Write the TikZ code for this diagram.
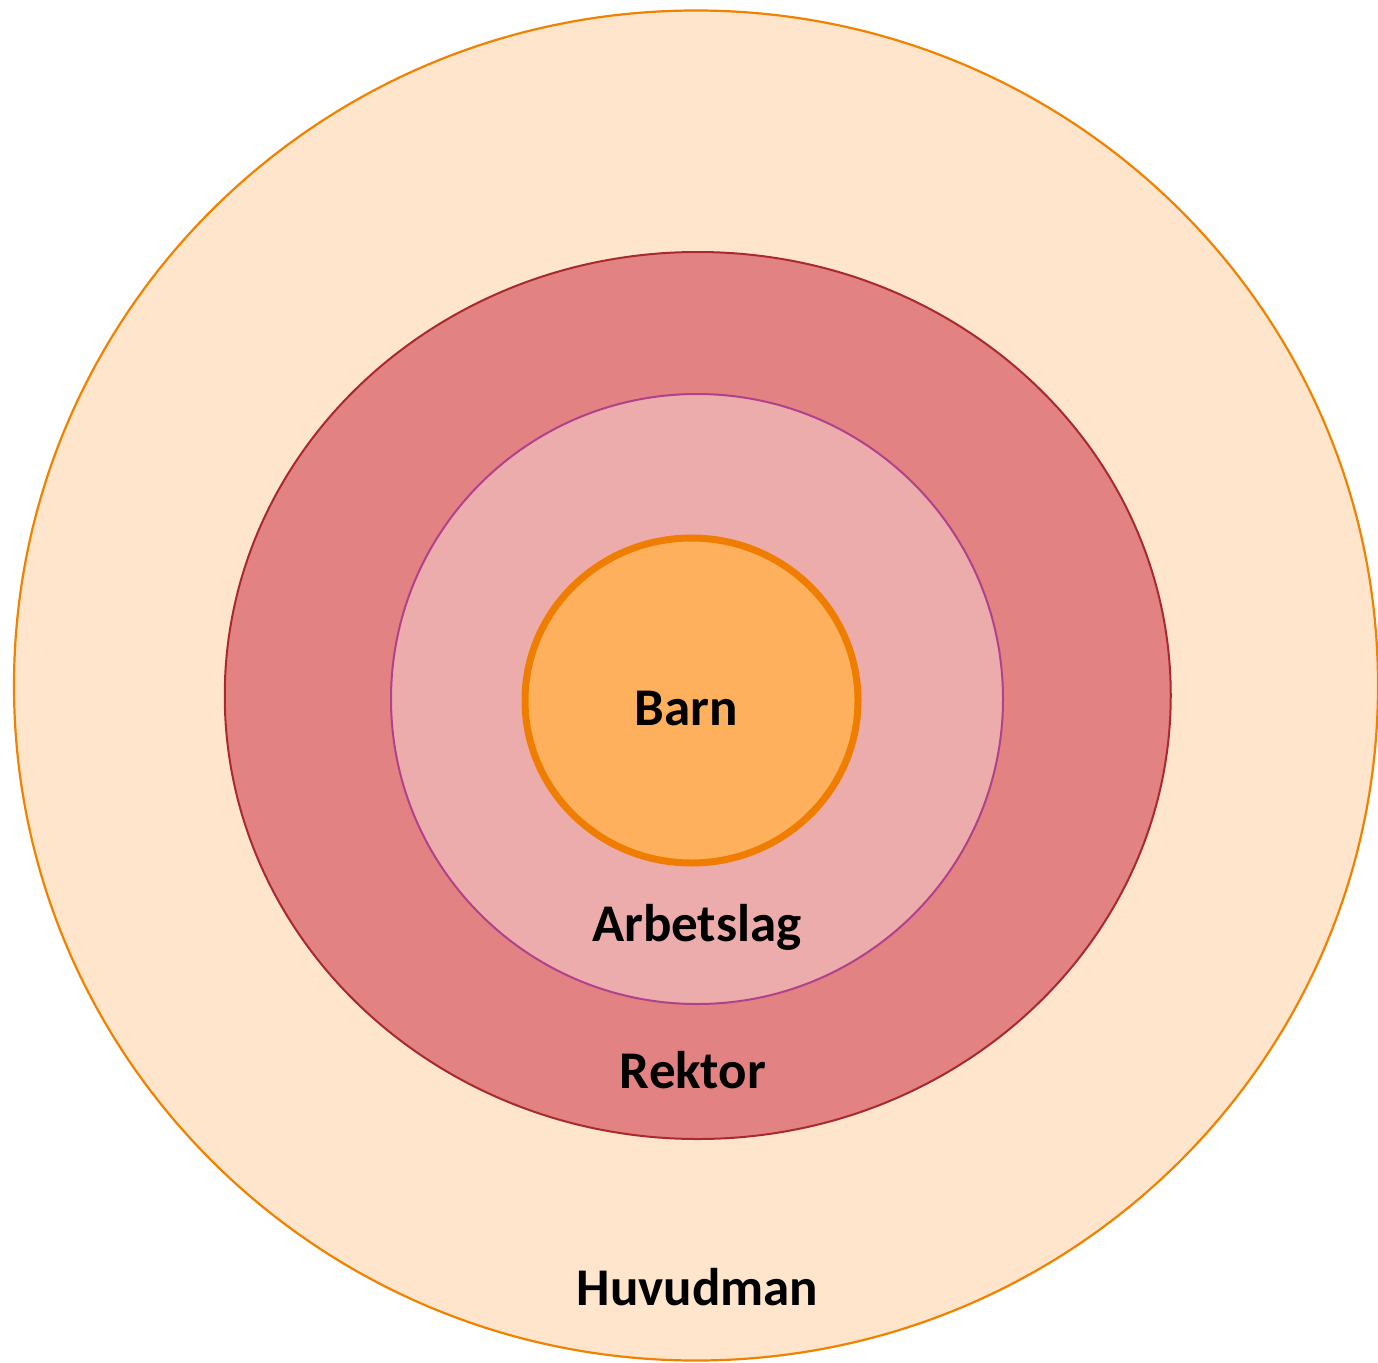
\documentclass[tikz,border=0pt]{standalone}
\usepackage{fontspec}
\setmainfont{Carlito}
\definecolor{outerfill}{HTML}{FEE5CB}
\definecolor{outerdraw}{HTML}{F08200}
\definecolor{redfill}{HTML}{E38282}
\definecolor{reddraw}{HTML}{A82A2D}
\definecolor{pinkfill}{HTML}{ECACAC}
\definecolor{pinkdraw}{HTML}{B0428C}
\definecolor{corefill}{HTML}{FEB05C}
\definecolor{coredraw}{HTML}{EF7E00}
\begin{document}
\begin{tikzpicture}[x=1pt,y=-1pt,
  lbl/.style={font=\fontsize{53}{62}\selectfont\bfseries, anchor=base, inner sep=0pt}]
\clip (0,0) rectangle (1378,1362);
\useasboundingbox (0,0) rectangle (1378,1362);
\fill[white] (0,0) rectangle (1378,1362);
\draw[fill=outerfill, draw=outerdraw, line width=2.2pt] (696,685.5) ellipse [x radius=682, y radius=675];
\draw[fill=redfill, draw=reddraw, line width=2pt] (697.75,695.5) ellipse [x radius=473, y radius=443.5];
\draw[fill=pinkfill, draw=pinkdraw, line width=2pt] (697,699) ellipse [x radius=306, y radius=305];
\draw[fill=corefill, draw=coredraw, line width=7pt] (691.5,700.5) ellipse [x radius=166.5, y radius=162.5];
\node[lbl] (barn) at (686.5,725) {Barn};
\node[lbl] (arbetslag) at (697,941) {Arbetslag};
\node[lbl] (rektor) at (693,1088) {Rektor};
\node[lbl] (huvudman) at (697.5,1305) {Huvudman};
\end{tikzpicture}
\end{document}
